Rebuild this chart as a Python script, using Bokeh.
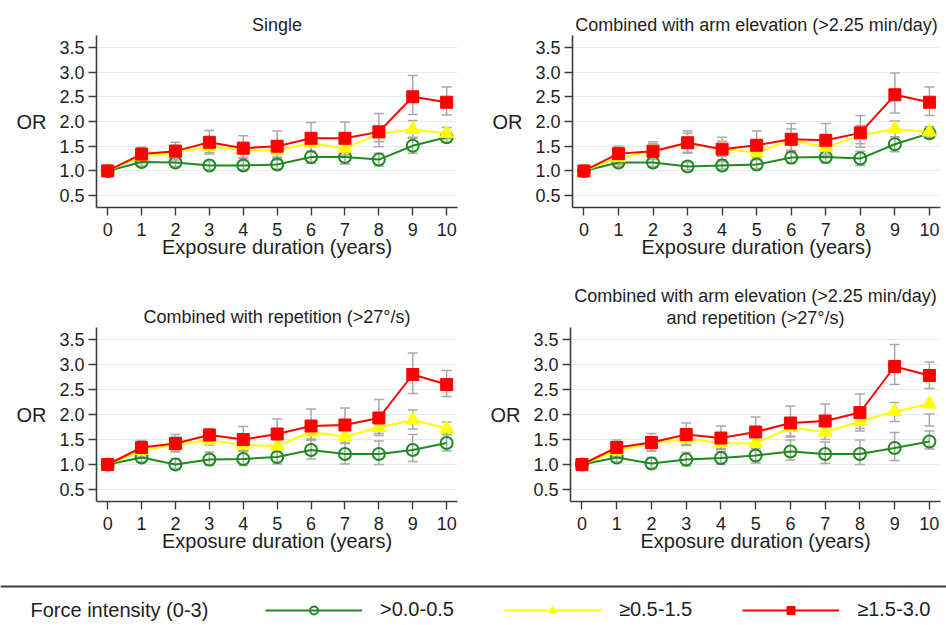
from bokeh.plotting import figure
from bokeh.layouts import column, row
from bokeh.models import (Range1d, FixedTicker, PrintfTickFormatter, Span, Label,
                          Legend, LegendItem, Title)
from bokeh.embed import file_html
from bokeh.resources import INLINE

nan = float("nan")

# ---------------- data ----------------
years = [0, 1, 2, 3, 4, 5, 6, 7, 8, 9, 10]
y_ticks = [0.5, 1.0, 1.5, 2.0, 2.5, 3.0, 3.5]

title_single = "Single"
title_arm = "Combined with arm elevation (>2.25 min/day)"
title_rep = "Combined with repetition (>27°/s)"
title_both_1 = "Combined with arm elevation (>2.25 min/day)"
title_both_2 = "and repetition (>27°/s)"
x_label = "Exposure duration (years)"
y_label = "OR"
legend_title = "Force intensity (0-3)"
series_labels = [">0.0-0.5", "≥0.5-1.5", "≥1.5-3.0"]

# Single
single_low = [1.00, 1.18, 1.17, 1.11, 1.11, 1.13, 1.28, 1.28, 1.23, 1.51, 1.68]
single_low_lo = [nan, 1.10, 1.09, 1.03, 1.03, 1.04, 1.15, 1.14, 1.10, 1.36, 1.58]
single_low_hi = [nan, 1.26, 1.26, 1.20, 1.20, 1.22, 1.40, 1.40, 1.36, 1.66, 1.78]
single_mid = [1.00, 1.30, 1.36, 1.50, 1.42, 1.42, 1.56, 1.46, 1.75, 1.84, 1.76]
single_mid_lo = [nan, 1.18, 1.22, 1.34, 1.27, 1.28, 1.38, 1.32, 1.59, 1.68, 1.65]
single_mid_hi = [nan, 1.44, 1.52, 1.68, 1.58, 1.58, 1.76, 1.62, 1.92, 2.02, 1.88]
single_high = [1.00, 1.34, 1.40, 1.58, 1.46, 1.50, 1.66, 1.66, 1.79, 2.50, 2.39]
single_high_lo = [nan, 1.21, 1.24, 1.37, 1.25, 1.25, 1.39, 1.38, 1.49, 2.14, 2.13]
single_high_hi = [nan, 1.48, 1.58, 1.82, 1.71, 1.81, 1.98, 1.99, 2.16, 2.93, 2.70]

# Combined with arm elevation
arm_low = [1.00, 1.17, 1.17, 1.09, 1.11, 1.13, 1.27, 1.28, 1.25, 1.54, 1.76]
arm_low_lo = [nan, 1.09, 1.09, 1.02, 1.04, 1.05, 1.15, 1.16, 1.11, 1.39, 1.66]
arm_low_hi = [nan, 1.25, 1.26, 1.18, 1.19, 1.23, 1.40, 1.40, 1.40, 1.69, 1.86]
arm_mid = [1.00, 1.27, 1.39, 1.56, 1.44, 1.38, 1.62, 1.48, 1.72, 1.85, 1.79]
arm_mid_lo = [nan, 1.13, 1.24, 1.38, 1.29, 1.23, 1.42, 1.30, 1.55, 1.69, 1.68]
arm_mid_hi = [nan, 1.42, 1.55, 1.76, 1.60, 1.55, 1.85, 1.68, 1.92, 2.01, 1.90]
arm_high = [1.00, 1.35, 1.40, 1.57, 1.44, 1.52, 1.64, 1.62, 1.77, 2.54, 2.39]
arm_high_lo = [nan, 1.21, 1.23, 1.36, 1.23, 1.28, 1.37, 1.34, 1.48, 2.17, 2.12]
arm_high_hi = [nan, 1.50, 1.59, 1.81, 1.68, 1.81, 1.96, 1.96, 2.12, 2.98, 2.70]

# Combined with repetition
rep_low = [1.00, 1.14, 1.00, 1.10, 1.11, 1.15, 1.29, 1.21, 1.21, 1.29, 1.43]
rep_low_lo = [nan, 1.05, 0.92, 0.98, 0.98, 1.01, 1.11, 1.01, 1.00, 1.06, 1.27]
rep_low_hi = [nan, 1.24, 1.12, 1.25, 1.26, 1.30, 1.51, 1.43, 1.47, 1.60, 1.60]
rep_mid = [1.00, 1.28, 1.39, 1.49, 1.39, 1.37, 1.65, 1.56, 1.74, 1.89, 1.72]
rep_mid_lo = [nan, 1.15, 1.25, 1.39, 1.27, 1.24, 1.49, 1.42, 1.58, 1.71, 1.60]
rep_mid_hi = [nan, 1.42, 1.55, 1.60, 1.52, 1.52, 1.83, 1.72, 1.92, 2.09, 1.85]
rep_high = [1.00, 1.34, 1.42, 1.59, 1.50, 1.61, 1.77, 1.79, 1.93, 2.80, 2.60]
rep_high_lo = [nan, 1.22, 1.27, 1.47, 1.28, 1.36, 1.49, 1.50, 1.62, 2.42, 2.36]
rep_high_hi = [nan, 1.48, 1.60, 1.72, 1.76, 1.91, 2.11, 2.13, 2.30, 3.23, 2.88]

# Combined with arm elevation and repetition
both_low = [1.00, 1.14, 1.02, 1.10, 1.13, 1.18, 1.26, 1.21, 1.21, 1.33, 1.46]
both_low_lo = [nan, 1.05, 0.93, 0.97, 1.00, 1.03, 1.09, 1.02, 1.00, 1.08, 1.31]
both_low_hi = [nan, 1.24, 1.14, 1.24, 1.26, 1.32, 1.49, 1.45, 1.49, 1.64, 1.67]
both_mid = [1.00, 1.28, 1.42, 1.52, 1.43, 1.42, 1.74, 1.65, 1.86, 2.06, 2.21]
both_mid_lo = [nan, 1.16, 1.27, 1.38, 1.30, 1.28, 1.57, 1.50, 1.72, 1.86, 1.77]
both_mid_hi = [nan, 1.40, 1.56, 1.70, 1.58, 1.58, 1.90, 1.80, 2.00, 2.24, 2.01]
both_high = [1.00, 1.34, 1.44, 1.60, 1.53, 1.65, 1.83, 1.87, 2.04, 2.96, 2.78]
both_high_lo = [nan, 1.21, 1.28, 1.40, 1.32, 1.40, 1.55, 1.58, 1.67, 2.60, 2.52]
both_high_hi = [nan, 1.49, 1.62, 1.83, 1.77, 1.95, 2.17, 2.21, 2.41, 3.40, 3.05]

# ---------------- style ----------------
FONT = "Liberation Sans"
GREEN = "#1f8a1f"
YELLOW = "#ffff00"
RED = "#ff0000"
GRAY = "#a9a9a9"
AXIS = "#3c3c3c"
TEXT = "#1e1e1e"


def style_title(t, standoff):
    t.align = "center"
    t.text_font = FONT
    t.text_font_size = "18px"
    t.text_font_style = "normal"
    t.text_color = TEXT
    t.standoff = standoff


def panel(titles, low, low_lo, low_hi, mid, mid_lo, mid_hi, high, high_lo, high_hi,
          width, height, bl, br, bt, bb):
    p = figure(width=width, height=height,
               x_range=Range1d(-0.33, 10.32), y_range=Range1d(0.26, 3.74),
               output_backend="svg", toolbar_location=None,
               min_border_left=bl, min_border_right=br,
               min_border_top=bt, min_border_bottom=bb,
               outline_line_color=None, background_fill_color="white",
               border_fill_color="white")
    # p.title is the outermost line; extra lines are added nearer the frame
    p.title.text = titles[0]
    if len(titles) == 1:
        style_title(p.title, 2)
    else:
        style_title(p.title, 0)
        t = Title(text=titles[1])
        style_title(t, 0)
        p.add_layout(t, "above")

    p.xgrid.visible = False
    p.ygrid.grid_line_color = "#e4ecef"
    p.ygrid.grid_line_width = 1.2
    p.ygrid.ticker = FixedTicker(ticks=y_ticks)

    p.xaxis.ticker = FixedTicker(ticks=years)
    p.yaxis.ticker = FixedTicker(ticks=y_ticks)
    p.yaxis.formatter = PrintfTickFormatter(format="%.1f")
    for ax in (p.xaxis[0], p.yaxis[0]):
        ax.axis_line_color = AXIS
        ax.axis_line_width = 1.6
        ax.major_tick_line_color = AXIS
        ax.major_tick_line_width = 1.4
        ax.major_tick_in = 0
        ax.major_tick_out = 8
        ax.minor_tick_line_color = None
        ax.major_label_text_font = FONT
        ax.major_label_text_font_size = "18px"
        ax.major_label_text_color = TEXT
        ax.axis_label_text_font = FONT
        ax.axis_label_text_font_size = "20px"
        ax.axis_label_text_font_style = "normal"
        ax.axis_label_text_color = TEXT
    p.xaxis.axis_label = x_label
    p.xaxis.major_label_standoff = 7
    p.xaxis.axis_label_standoff = -3
    p.yaxis.axis_label = y_label
    p.yaxis.axis_label_orientation = "horizontal"
    p.yaxis.major_label_standoff = 4
    p.yaxis.axis_label_standoff = 10

    # confidence intervals
    for lo, hi in ((low_lo, low_hi), (mid_lo, mid_hi), (high_lo, high_hi)):
        p.segment(x0=years, y0=lo, x1=years, y1=hi, line_color=GRAY, line_width=1.5)
        p.scatter(x=years, y=lo, marker="dash", size=10, line_color=GRAY, line_width=1.5)
        p.scatter(x=years, y=hi, marker="dash", size=10, line_color=GRAY, line_width=1.5)

    p.line(x=years, y=low, line_color=GREEN, line_width=2)
    p.scatter(x=years, y=low, marker="circle", size=12, fill_color=None,
              line_color=GREEN, line_width=2)
    p.line(x=years, y=mid, line_color=YELLOW, line_width=2)
    p.scatter(x=years, y=mid, marker="triangle", size=14, fill_color=YELLOW,
              line_color=YELLOW)
    p.line(x=years, y=high, line_color=RED, line_width=2)
    p.scatter(x=years, y=high, marker="square", size=12, fill_color=RED,
              line_color=RED)
    return p


p1 = panel([title_single], single_low, single_low_lo, single_low_hi,
           single_mid, single_mid_lo, single_mid_hi,
           single_high, single_high_lo, single_high_hi,
           473, 283, 96, 16, 35, 76)
p2 = panel([title_arm], arm_low, arm_low_lo, arm_low_hi,
           arm_mid, arm_mid_lo, arm_mid_hi,
           arm_high, arm_high_lo, arm_high_hi,
           473, 283, 99, 6, 35, 76)
p3 = panel([title_rep], rep_low, rep_low_lo, rep_low_hi,
           rep_mid, rep_mid_lo, rep_mid_hi,
           rep_high, rep_high_lo, rep_high_hi,
           473, 292, 96, 16, 44, 74)
p4 = panel([title_both_1, title_both_2], both_low, both_low_lo, both_low_hi,
           both_mid, both_mid_lo, both_mid_hi,
           both_high, both_high_lo, both_high_hi,
           473, 292, 97, 6, 44, 74)

# ---------------- legend strip ----------------
# y runs from -70 (bottom) to -20 (top); the legend's sample renderers use the
# series values, which lie far above the visible range, so only their legend
# glyphs are seen.
leg = figure(width=946, height=50, x_range=Range1d(0, 946), y_range=Range1d(-70, -20),
             output_backend="svg", toolbar_location=None,
             x_axis_location=None, y_axis_location=None,
             min_border=0, outline_line_color=None)
leg.grid.visible = False
leg.add_layout(Span(location=-31, dimension="width", line_color=AXIS, line_width=2))
leg.add_layout(Label(x=30, y=-54, text=legend_title, text_baseline="middle",
                     text_font=FONT, text_font_size="20px", text_color=TEXT))

colors = [GREEN, YELLOW, RED]
markers = ["circle", "triangle", "square"]
msizes = [10, 14, 12]
sample_values = [single_low, single_mid, single_high]
items = []
for lab, c, m, s, vals in zip(series_labels, colors, markers, msizes, sample_values):
    lr = leg.line(x=years, y=vals, line_color=c, line_width=2)
    sr = leg.scatter(x=years, y=vals, marker=m, size=s,
                     fill_color=(None if m == "circle" else c),
                     line_color=c, line_width=(2 if m == "circle" else 1))
    items.append(LegendItem(label=lab, renderers=[lr, sr]))

legend = Legend(items=items, orientation="horizontal", location=(265, 4),
                glyph_width=97, glyph_height=20, label_standoff=18, spacing=50,
                label_text_font=FONT, label_text_font_size="20px",
                label_text_color=TEXT, border_line_color=None,
                background_fill_alpha=0, padding=0, margin=0)
leg.add_layout(legend)

layout = column(row(p1, p2), row(p3, p4), leg)

with open("out.html", "w") as f:
    f.write(file_html(layout, INLINE))
